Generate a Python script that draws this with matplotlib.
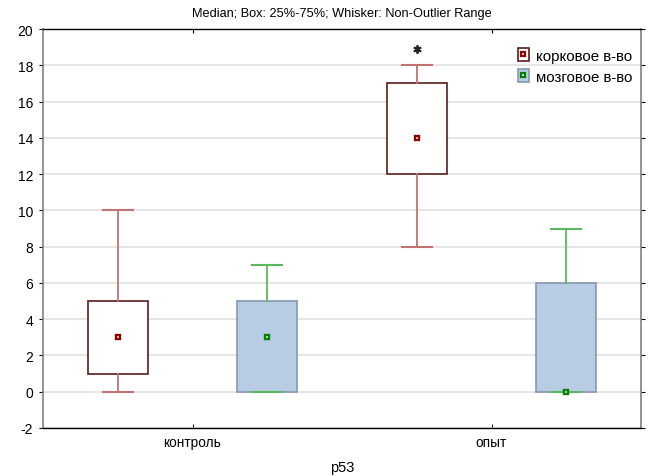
import matplotlib
matplotlib.use("Agg")
import matplotlib.pyplot as plt
from matplotlib.patches import Patch
from matplotlib.lines import Line2D

plt.rcParams['font.family'] = ['Liberation Sans', 'DejaVu Sans']
plt.rcParams['axes.unicode_minus'] = False

categories = ["контроль", "опыт"]
series_names = ["корковое в-во", "мозговое в-во"]

# корковое в-во
cortex_whislo = [0, 8]
cortex_q1 = [1, 12]
cortex_med = [3, 14]
cortex_q3 = [5, 17]
cortex_whishi = [10, 18]
cortex_fliers = [[], [18.9]]

# мозговое в-во
medulla_whislo = [0, 0]
medulla_q1 = [0, 0]
medulla_med = [3, 0]
medulla_q3 = [5, 6]
medulla_whishi = [7, 9]
medulla_fliers = [[], []]

yticks = list(range(-2, 21, 2))

fig = plt.figure(figsize=(6.54, 4.77), dpi=100)
ax = fig.add_axes([43/654, 48/477, 598/654, 399/477])

def stats(lo, q1, med, q3, hi, fl):
    return [dict(whislo=a, q1=b, med=c, q3=d, whishi=e, fliers=f)
            for a, b, c, d, e, f in zip(lo, q1, med, q3, hi, fl)]

base = list(range(len(categories)))
off = 0.25
w = 0.2

c_red_edge = '#5a1c1c'
c_red_wh = '#c07373'
c_red_med = '#8b0000'
c_blue_fill = '#b8cce4'
c_blue_edge = '#8598b3'
c_green_wh = '#5cb85c'
c_green_med = '#008000'

st1 = stats(cortex_whislo, cortex_q1, cortex_med, cortex_q3, cortex_whishi, cortex_fliers)
st2 = stats(medulla_whislo, medulla_q1, medulla_med, medulla_q3, medulla_whishi, medulla_fliers)

pos1 = [b - off for b in base]
pos2 = [b + off for b in base]

ax.bxp(st1, positions=pos1, widths=w, capwidths=0.1, patch_artist=True,
       boxprops=dict(facecolor='white', edgecolor=c_red_edge, linewidth=1.2),
       whiskerprops=dict(color=c_red_wh, linewidth=1.3),
       capprops=dict(color=c_red_wh, linewidth=1.5),
       medianprops=dict(linewidth=0),
       flierprops=dict(marker=(6, 2, 0), markersize=6, markerfacecolor='#222222',
                       markeredgecolor='#222222', markeredgewidth=1.3),
       zorder=3)
ax.bxp(st2, positions=pos2, widths=w, capwidths=0.1, patch_artist=True,
       boxprops=dict(facecolor=c_blue_fill, edgecolor=c_blue_edge, linewidth=1.2),
       whiskerprops=dict(color=c_green_wh, linewidth=1.3),
       capprops=dict(color=c_green_wh, linewidth=1.5),
       medianprops=dict(linewidth=0),
       zorder=3)

ax.plot(pos1, cortex_med, ls='none', marker='s', markersize=3.2, mfc='white',
        mec=c_red_med, mew=1.7, zorder=5)
ax.plot(pos2, medulla_med, ls='none', marker='s', markersize=3.2, mfc='white',
        mec=c_green_med, mew=1.7, zorder=5, clip_on=False)

ax.set_xlim(-0.5, 1.5)
ax.set_ylim(-2, 20)
ax.set_yticks(yticks)
ax.set_xticks(base)
ax.set_xticklabels(categories, fontsize=9.8)
ax.tick_params(axis='y', labelsize=10, length=3, width=0.8, direction='out',
               right=True, colors='black', pad=4)
ax.tick_params(axis='x', length=3, width=0.8, direction='in', top=True, pad=5)
ax.yaxis.grid(True, color='#e0e0e0', linewidth=1.2, zorder=0)
ax.set_axisbelow(True)

for s in ['left', 'right']:
    ax.spines[s].set_color('#808080')
    ax.spines[s].set_linewidth(1.2)
for s in ['top', 'bottom']:
    ax.spines[s].set_color('black')
    ax.spines[s].set_linewidth(1.0)

ax.set_xlabel("p53", fontsize=10.5, labelpad=8)
ax.set_title("Median; Box: 25%-75%; Whisker: Non-Outlier Range", fontsize=9.2, pad=9)

h1 = (Patch(facecolor='white', edgecolor=c_red_edge, linewidth=1.2),
      Line2D([], [], ls='none', marker='s', markersize=3, mfc='white', mec=c_red_med, mew=1.6))
h2 = (Patch(facecolor=c_blue_fill, edgecolor=c_blue_edge, linewidth=1.2),
      Line2D([], [], ls='none', marker='s', markersize=3, mfc='white', mec=c_green_med, mew=1.6))
ax.legend([h1, h2], series_names, loc='upper right', frameon=False, fontsize=10.8,
          handlelength=0.75, handleheight=1.0, handletextpad=0.45, labelspacing=0.4,
          borderaxespad=0.2, bbox_to_anchor=(1.0, 0.975))

fig.savefig("out.png", dpi=100)
